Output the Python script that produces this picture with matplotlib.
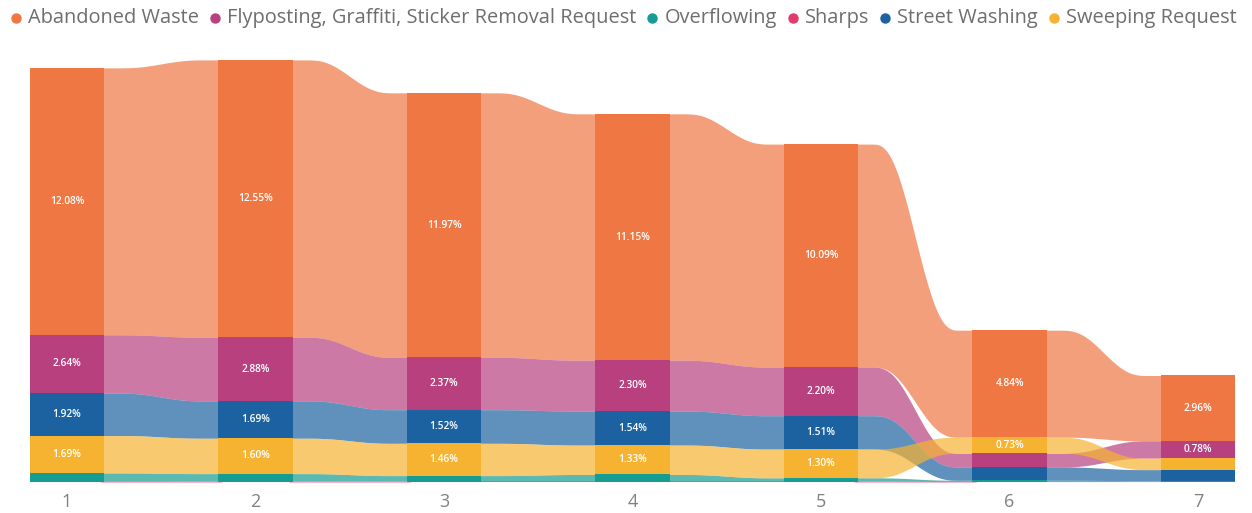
import numpy as np
import matplotlib.pyplot as plt
from matplotlib.lines import Line2D

# weekly share of requests per category (%)
columns = ['1', '2', '3', '4', '5', '6', '7']
series = ['Abandoned Waste', 'Flyposting, Graffiti, Sticker Removal Request',
          'Overflowing', 'Sharps', 'Street Washing', 'Sweeping Request']

abandoned_waste = [12.08, 12.55, 11.97, 11.15, 10.09, 4.84, 2.96]
flyposting = [2.64, 2.88, 2.37, 2.30, 2.20, 0.62, 0.78]
overflowing = [0.35, 0.33, 0.25, 0.30, 0.15, 0.06, 0.04]
sharps = [0.06, 0.05, 0.04, 0.04, 0.04, 0.02, 0.02]
street_washing = [1.92, 1.69, 1.52, 1.54, 1.51, 0.60, 0.50]
sweeping = [1.69, 1.60, 1.46, 1.33, 1.30, 0.73, 0.52]

colors = ['#EF7743', '#B8407F', '#169C92', '#E23A6A', '#1C62A0', '#F6B331']
values = np.array([abandoned_waste, flyposting, overflowing, sharps,
                   street_washing, sweeping])

BAR_W = 0.393
RIBBON_ALPHA = 0.7
LABEL_MIN = 0.7

plt.rcParams['font.family'] = ['Open Sans', 'DejaVu Sans']

fig = plt.figure(figsize=(12.52, 5.13), dpi=100)
ax = fig.add_axes([0, 31 / 513, 1, 432 / 513])

n_ser, n_col = values.shape
xs = np.arange(n_col)

# stack each column: largest value on top
bottoms = np.zeros_like(values)
for c in range(n_col):
    base = 0.0
    for s in np.argsort(values[:, c], kind='stable'):
        bottoms[s, c] = base
        base += values[s, c]
tops = bottoms + values


def ease(t):
    t = np.clip((t - 0.12) / 0.76, 0, 1)
    return t * t * t * (t * (6 * t - 15) + 10)


# ribbons between columns, drawn in legend order; tucked a little under
# the bars so no hairline gap shows
for c in range(n_col - 1):
    x0 = xs[c] + BAR_W / 2
    x1 = xs[c + 1] - BAR_W / 2
    xx = np.linspace(x0 - 0.02, x1 + 0.02, 240)
    k = ease((xx - x0) / (x1 - x0))
    for s in range(n_ser):
        lo = bottoms[s, c] + (bottoms[s, c + 1] - bottoms[s, c]) * k
        hi = tops[s, c] + (tops[s, c + 1] - tops[s, c]) * k
        ax.fill_between(xx, lo, hi, color=colors[s], alpha=RIBBON_ALPHA,
                        linewidth=0, zorder=1)

# solid bars with value labels
for s in range(n_ser):
    ax.bar(xs, values[s], bottom=bottoms[s], width=BAR_W, color=colors[s],
           linewidth=0, zorder=3)
    for c in range(n_col):
        v = values[s, c]
        if v >= LABEL_MIN:
            ax.text(xs[c], bottoms[s, c] + v / 2, f'{v:.2f}%', ha='center',
                    va='center', color='white', fontsize=7.3,
                    fontweight='semibold', zorder=4)

ax.set_xlim(-67 / 188.5, (1252 - 67) / 188.5)
ax.set_ylim(0, 432 / 22.1)
ax.set_xticks(xs)
ax.set_xticklabels(columns)
ax.tick_params(axis='x', length=0, pad=8, labelsize=13, labelcolor='#808080')
ax.set_yticks([])
for sp in ax.spines.values():
    sp.set_visible(False)

# legend row across the top
fig.canvas.draw()
renderer = fig.canvas.get_renderer()
W, H = fig.bbox.width, fig.bbox.height
x = 16
y = 1 - 18 / H
for name, col in zip(series, colors):
    fig.add_artist(Line2D([x / W], [y], marker='o', markersize=6.5,
                          color=col, linestyle='none',
                          transform=fig.transFigure))
    t = fig.text((x + 12) / W, y, name, ha='left', va='center',
                 fontsize=14.45, color='#6E6E6E')
    x += 12 + t.get_window_extent(renderer).width + 16

fig.savefig('out.png', dpi=100)
